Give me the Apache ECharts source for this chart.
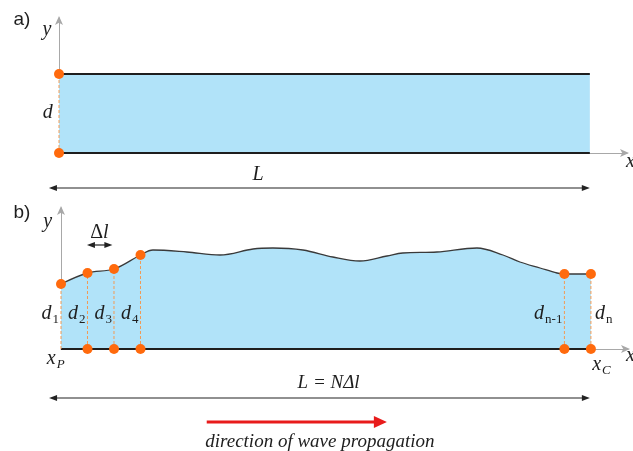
<!DOCTYPE html>
<html><head><meta charset="utf-8">
<script src="https://cdn.jsdelivr.net/npm/echarts@6/dist/echarts.min.js"></script>
<style>html,body{margin:0;padding:0;background:#fff}#c{width:633px;height:451px}</style>
</head><body><div id="c"></div>
<script>
// ---------------- data (x in units of Δl, y = depth) ----------------
const L_UNITS = 20;                                  // L = N·Δl
const depthA = 7.9;                                  // panel a: constant depth d
const nodeX = [0, 1, 2, 3, 19, 20];                  // measuring stations
const nodeDepth = [6.5, 7.6, 8.0, 9.4, 7.5, 7.5];    // d1..d4, d(n-1), dn
const nodeSub = ['1', '2', '3', '4', 'n-1', 'n'];
const surfX = [0, 1, 2, 3, 3.47, 4.75, 6.0, 7.25, 8.0, 9.13, 10.26, 11.28, 12.3, 12.9, 14.19, 15.7, 16.68, 17.32, 18.08, 18.72, 19, 20];
const surfY = [6.5, 7.6, 8.0, 9.4, 9.9, 9.7, 9.4, 10.0, 10.1, 9.9, 9.2, 8.8, 9.3, 9.6, 9.7, 10.1, 9.4, 8.7, 8.1, 7.6, 7.5, 7.5];

// ---------------- styles ----------------
const WATER = '#b1e3f9', ORANGE = '#ff6a0d', DASH = '#f29a55', AXIS = '#a8a8a8', INK = '#1e1e1e';
const SERIF = '"Liberation Serif","DejaVu Serif",serif';
const SANS = '"Liberation Sans",Arial,sans-serif';

function axisX(gi) {
  return { gridIndex: gi, type: 'value', min: 0, max: 21.4,
    axisLine: { show: true, onZero: false, lineStyle: { color: AXIS, width: 1 }, symbol: ['none', 'arrow'], symbolSize: [6, 9], symbolOffset: [0, 2] },
    axisTick: { show: false }, axisLabel: { show: false }, splitLine: { show: false } };
}
function axisY(gi, max) {
  return { gridIndex: gi, type: 'value', min: 0, max: max,
    axisLine: { show: true, onZero: false, lineStyle: { color: AXIS, width: 1 }, symbol: ['none', 'arrow'], symbolSize: [6, 9], symbolOffset: [0, 2] },
    axisTick: { show: false }, axisLabel: { show: false }, splitLine: { show: false } };
}
function seg(gi, pts, color, width, type, z) {
  return { type: 'line', xAxisIndex: gi, yAxisIndex: gi, data: pts, symbol: 'none', clip: false, silent: true,
    lineStyle: { color: color, width: width, type: type || 'solid' }, z: z || 3, animation: false };
}
function dots(gi, pts) {
  return { type: 'scatter', xAxisIndex: gi, yAxisIndex: gi, data: pts, symbolSize: 10, clip: false,
    itemStyle: { color: ORANGE, opacity: 1 }, z: 6, animation: false, silent: true };
}

const series = [];
// panel a
series.push(Object.assign(seg(0, [[0, depthA], [L_UNITS, depthA]], INK, 1.8, 'solid', 3), { areaStyle: { color: WATER, opacity: 1 } }));
series.push(seg(0, [[0, 0], [L_UNITS, 0]], INK, 1.8, 'solid', 4));
series.push(seg(0, [[0, 0], [0, depthA]], DASH, 1, [3, 2], 5));
series.push(dots(0, [[0, depthA], [0, 0]]));
// panel b
series.push({ type: 'line', xAxisIndex: 1, yAxisIndex: 1, data: surfX.map((x, i) => [x, surfY[i]]), symbol: 'none', smooth: 0.35,
  clip: false, lineStyle: { color: '#3a3a3a', width: 1.3 }, areaStyle: { color: WATER, opacity: 1 }, z: 3, animation: false, silent: true });
series.push(seg(1, [[0, 0], [L_UNITS, 0]], INK, 1.8, 'solid', 4));
nodeX.forEach((x, i) => series.push(seg(1, [[x, 0], [x, nodeDepth[i]]], DASH, 1, [3, 2], 5)));
series.push(dots(1, nodeX.map((x, i) => [x, nodeDepth[i]])));
series.push(dots(1, nodeX.filter(x => x > 0).map(x => [x, 0])));

const option = {
  animation: false,
  grid: [
    { left: 59, top: 18, width: 568, height: 135 },
    { left: 61, top: 208, width: 567, height: 141 }
  ],
  xAxis: [axisX(0), axisX(1)],
  yAxis: [axisY(0, 13.5), axisY(1, 14.1)],
  series: series
};

const chart = echarts.init(document.getElementById('c'), null, { renderer: 'canvas' });
chart.setOption(option);

// ---------------- annotations ----------------
const pa = (x, y) => chart.convertToPixel({ gridIndex: 0 }, [x, y]);
const pb = (x, y) => chart.convertToPixel({ gridIndex: 1 }, [x, y]);
const mctx = document.createElement('canvas').getContext('2d');
function measure(font, t) { mctx.font = font; return mctx.measureText(t).width; }

const G = [];
function text(t, p, font, align, fill) {
  G.push({ type: 'text', x: p[0], y: p[1], silent: true, z: 10,
    style: { text: t, font: font, fill: fill || INK, align: align || 'center', textAlign: align || 'center', verticalAlign: 'middle', textVerticalAlign: 'middle' } });
}
const MATH = 'italic 20px ' + SERIF;
function subLabel(main, sub, p, align, subItalic) {
  const subFont = (subItalic ? 'italic ' : '') + '13px ' + SERIF;
  const w1 = measure(MATH, main) + 1, w2 = measure(subFont, sub);
  const tot = w1 + w2;
  const x0 = align === 'left' ? p[0] : align === 'right' ? p[0] - tot : p[0] - tot / 2;
  text(main, [x0, p[1]], MATH, 'left');
  text(sub, [x0 + w1, p[1] + 6], subFont, 'left');
}
function arrowHead(tip, dir, len, hw, color) {
  G.push({ type: 'polygon', silent: true, z: 10,
    shape: { points: [[tip[0], tip[1]], [tip[0] - dir * len, tip[1] - hw], [tip[0] - dir * len, tip[1] + hw]] },
    style: { fill: color } });
}
function line(p1, p2, color, w) {
  G.push({ type: 'line', silent: true, z: 10, shape: { x1: p1[0], y1: p1[1], x2: p2[0], y2: p2[1] }, style: { stroke: color, lineWidth: w } });
}
function dbl(p1, p2, color) {
  line([p1[0] + 4, p1[1]], [p2[0] - 4, p2[1]], color, 1.2);
  arrowHead(p1, -1, 8, 3, color);
  arrowHead(p2, 1, 8, 3, color);
}

// panel a
text('a)', [22, 20], '19px ' + SANS);
text('y', pa(-0.45, 12.3), MATH);
text('d', pa(-0.42, 4.0), MATH);
text('x', [626, 162], MATH, 'left');
dbl(pa(-0.38, -3.5), pa(L_UNITS, -3.5), '#222');
text('L', pa(7.5, -2.2), MATH);

// panel b
text('b)', [22, 213], '19px ' + SANS);
text('y', pb(-0.5, 12.7), MATH);
dbl(pb(0.98, 10.4), pb(1.94, 10.4), '#222');
{
  const p = pb(1.45, 11.6);
  const wD = measure('20px ' + SERIF, '\u0394'), wl = measure(MATH, 'l');
  const x0 = p[0] - (wD + wl) / 2;
  text('\u0394', [x0, p[1]], '20px ' + SERIF, 'left');
  text('l', [x0 + wD, p[1]], MATH, 'left');
}
nodeX.forEach((x, i) => {
  const p = pb(x, 3.5);
  if (i === nodeX.length - 1) subLabel('d', nodeSub[i], [p[0] + 4, p[1]], 'left');
  else subLabel('d', nodeSub[i], [p[0] - 2, p[1]], 'right');
});
subLabel('x', 'P', pb(-0.2, -1.0), 'center', true);
subLabel('x', 'C', pb(20.4, -1.6), 'center', true);
text('x', [626, 356], MATH, 'left');
dbl(pb(-0.45, -4.9), pb(19.96, -4.9), '#222');
text('L = N\u0394l', pb(10.1, -3.4), 'italic 19px ' + SERIF);
const r1 = pb(5.5, -7.3), r2 = pb(12.3, -7.3);
line(r1, [r2[0] - 10, r2[1]], '#e81b1b', 3);
arrowHead(r2, 1, 13, 6, '#e81b1b');
text('direction of wave propagation', pb(9.77, -9.3), 'italic 19px ' + SERIF);

chart.setOption({ graphic: { elements: G } });
</script>
</body></html>
